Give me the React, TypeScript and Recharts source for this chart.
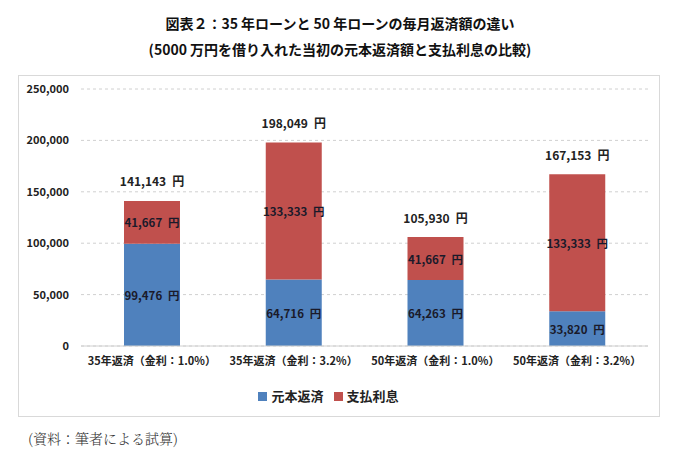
import { BarChart, Bar, XAxis, YAxis, CartesianGrid, Legend, LabelList } from 'recharts';

const categories = [
  '35年返済（金利：1.0%）',
  '35年返済（金利：3.2%）',
  '50年返済（金利：1.0%）',
  '50年返済（金利：3.2%）',
];
const principal = [99476, 64716, 64263, 33820];
const interest = [41667, 133333, 41667, 133333];
const yTicks = [0, 50000, 100000, 150000, 200000, 250000];

const data = categories.map((name, i) => ({
  name,
  principal: principal[i],
  interest: interest[i],
  total: principal[i] + interest[i],
}));

const FONT = '"Noto Sans CJK JP", "Noto Sans", sans-serif';
const yen = (v: any) => `${Number(v).toLocaleString('en-US')}\u2002円`;

// single-line label so Recharts doesn't wrap it to the bar width
const centerLabel = (props: any) => {
  const { x, y, width, height, value } = props;
  return (
    <text
      x={Number(x) + Number(width) / 2}
      y={Number(y) + Number(height) / 2}
      textAnchor="middle"
      dominantBaseline="central"
      fill="#1a1a2a"
      fontSize={11.5}
      fontWeight={700}
      fontFamily={FONT}
    >
      {yen(value)}
    </text>
  );
};

const topLabel = (props: any) => {
  const { x, y, width, value } = props;
  return (
    <text
      x={Number(x) + Number(width) / 2}
      y={Number(y) - 20}
      textAnchor="middle"
      dominantBaseline="central"
      fill="#222"
      fontSize={12}
      fontWeight={700}
      fontFamily={FONT}
    >
      {yen(value)}
    </text>
  );
};

export default function App() {
  return (
    <div
      style={{
        position: 'absolute',
        left: 0,
        top: 0,
        width: 680,
        height: 462,
        background: '#fff',
        fontFamily: FONT,
      }}
    >
      <div
        style={{
          position: 'absolute',
          top: 10,
          left: 0,
          width: 680,
          textAlign: 'center',
          fontSize: 14,
          fontWeight: 700,
          color: '#111',
          lineHeight: '26px',
        }}
      >
        <div>図表２：35 年ローンと 50 年ローンの毎月返済額の違い</div>
        <div>(5000 万円を借り入れた当初の元本返済額と支払利息の比較)</div>
      </div>

      <div
        style={{
          position: 'absolute',
          left: 18,
          top: 75,
          width: 640,
          height: 340,
          border: '1px solid #d9d9d9',
        }}
      >
        <BarChart
          width={640}
          height={340}
          data={data}
          margin={{ top: 13, right: 11, left: 0, bottom: 2 }}
        >
          <CartesianGrid
            vertical={false}
            stroke="#d0d0d0"
            strokeDasharray="3 3"
          />
          <XAxis
            dataKey="name"
            tickLine={false}
            tickSize={0}
            tickMargin={11}
            height={36}
            axisLine={{ stroke: '#d0d0d0' }}
            tick={{ fill: '#222', fontSize: 11, fontWeight: 700, fontFamily: FONT }}
          />
          <YAxis
            width={62}
            domain={[0, 250000]}
            ticks={yTicks}
            tickLine={false}
            axisLine={false}
            tickSize={0}
            tickMargin={12}
            tickFormatter={(v: number) => v.toLocaleString('en-US')}
            tick={{ fill: '#222', fontSize: 11, fontWeight: 700, fontFamily: FONT }}
          />
          <Legend
            verticalAlign="bottom"
            height={32}
            iconType="square"
            iconSize={9}
            formatter={(value: string) => (
              <span style={{ color: '#222', fontSize: 13, fontWeight: 700, fontFamily: FONT }}>
                {value}
              </span>
            )}
          />
          <Bar
            dataKey="principal"
            name="元本返済"
            stackId="a"
            fill="#4f81bd"
            barSize={56}
            isAnimationActive={false}
          >
            <LabelList dataKey="principal" content={centerLabel} />
          </Bar>
          <Bar
            dataKey="interest"
            name="支払利息"
            stackId="a"
            fill="#c0504d"
            barSize={56}
            isAnimationActive={false}
          >
            <LabelList dataKey="interest" content={centerLabel} />
            <LabelList dataKey="total" content={topLabel} />
          </Bar>
        </BarChart>
      </div>

      <div
        style={{
          position: 'absolute',
          left: 28,
          top: 428,
          fontSize: 14,
          color: '#333',
          fontFamily: '"Noto Serif CJK JP", "Noto Sans CJK JP", serif',
          fontWeight: 300,
        }}
      >
        (資料：筆者による試算)
      </div>
    </div>
  );
}
